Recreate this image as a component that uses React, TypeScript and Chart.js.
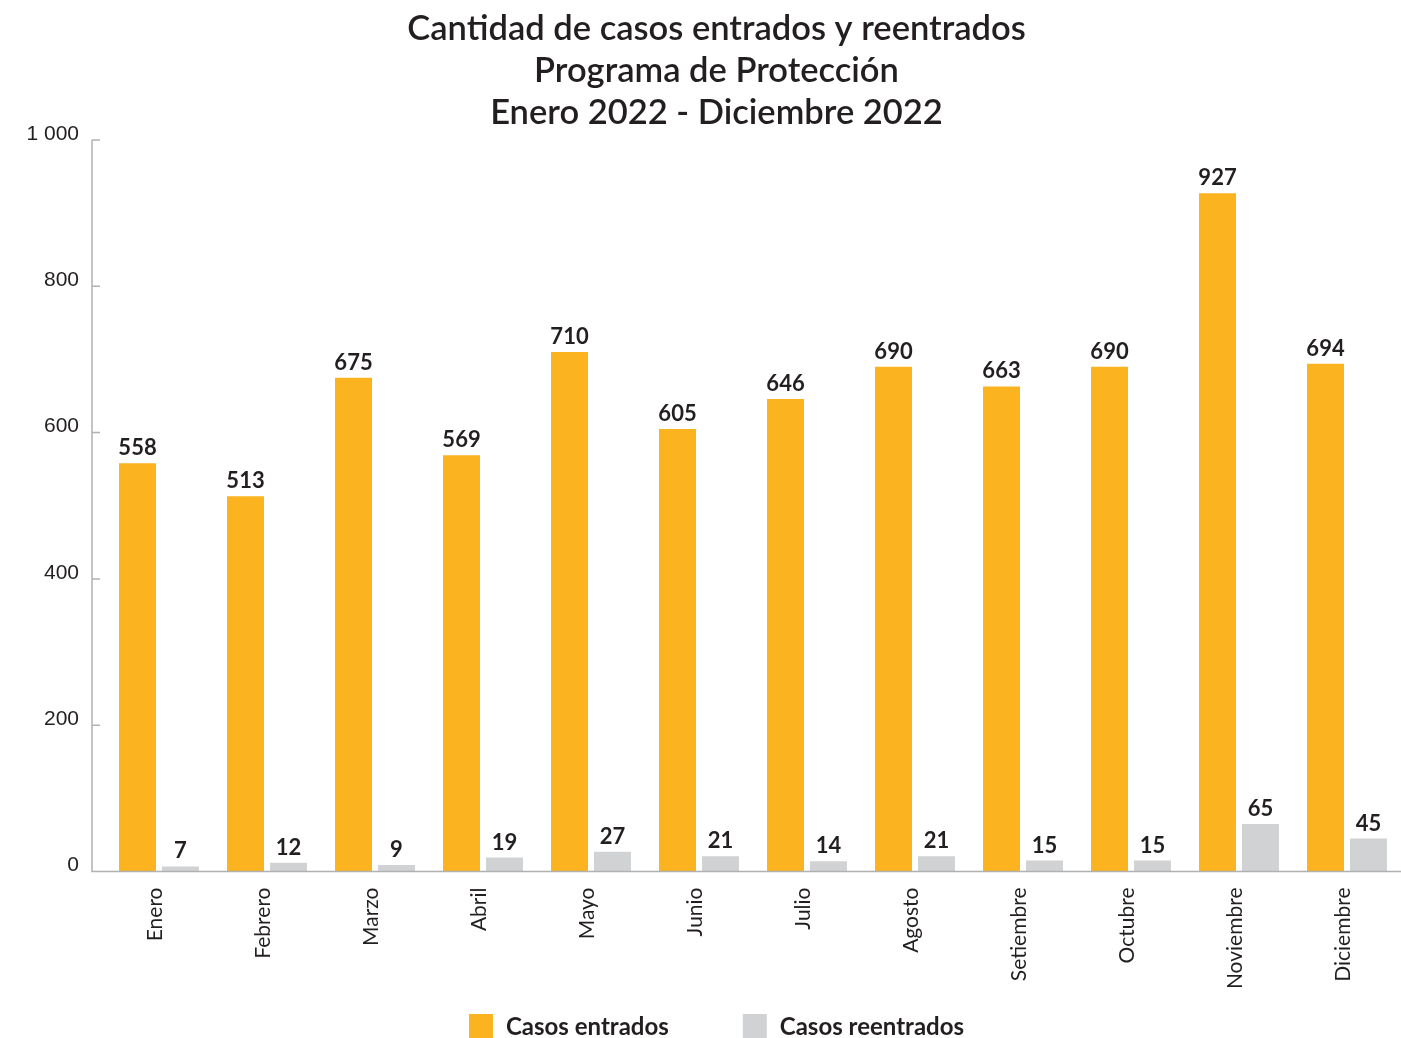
import React, { useEffect, useRef } from "react";
import { Chart, registerables } from "chart.js";

Chart.register(...registerables);

const months = [
  "Enero", "Febrero", "Marzo", "Abril", "Mayo", "Junio",
  "Julio", "Agosto", "Setiembre", "Octubre", "Noviembre", "Diciembre",
];
const casosEntrados = [558, 513, 675, 569, 710, 605, 646, 690, 663, 690, 927, 694];
const casosReentrados = [7, 12, 9, 19, 27, 21, 14, 21, 15, 15, 65, 45];
const seriesNames = ["Casos entrados", "Casos reentrados"];
const yTicks = [0, 200, 400, 600, 800, 1000];
const titleLines = [
  "Cantidad de casos entrados y reentrados",
  "Programa de Protección",
  "Enero 2022 - Diciembre 2022",
];

const ORANGE = "#fbb31f";
const GRAY = "#d1d2d4";
const TEXT = "#231f20";
const AXIS = "#b1b1b1";
const LEFT_PAD = 32;
const AXIS_GAP = 13;

const formatThousands = (v: number) =>
  String(v).replace(/\B(?=(\d{3})+(?!\d))/g, " ");

// Axis lines, inward tick marks and y tick labels; the y axis sits a little left of the first band.
const axisLinesPlugin = {
  id: "axisLines",
  afterDraw(chart: any) {
    const { ctx, chartArea, scales } = chart;
    const y = scales.y;
    const axisX = chartArea.left - AXIS_GAP;
    const y0 = y.getPixelForValue(0);
    const yTop = y.getPixelForValue(yTicks[yTicks.length - 1]);
    ctx.save();
    ctx.strokeStyle = AXIS;
    ctx.lineWidth = 1.5;
    ctx.beginPath();
    ctx.moveTo(axisX, yTop);
    ctx.lineTo(axisX, y0);
    ctx.lineTo(chart.width, y0);
    yTicks.forEach((t) => {
      const py = y.getPixelForValue(t);
      ctx.moveTo(axisX, py);
      ctx.lineTo(axisX + 8, py);
    });
    ctx.stroke();

    ctx.fillStyle = TEXT;
    ctx.font = "21px 'Liberation Sans', Arial, sans-serif";
    ctx.textAlign = "right";
    ctx.textBaseline = "middle";
    yTicks.forEach((t) => {
      ctx.fillText(formatThousands(t), axisX - 13, y.getPixelForValue(t) - 6);
    });
    ctx.restore();
  },
};

// Value labels above each bar.
const valueLabelsPlugin = {
  id: "valueLabels",
  afterDatasetsDraw(chart: any) {
    const { ctx } = chart;
    ctx.save();
    ctx.font = "bold 22px Lato";
    ctx.fillStyle = TEXT;
    ctx.textAlign = "center";
    ctx.textBaseline = "alphabetic";
    chart.data.datasets.forEach((ds: any, i: number) => {
      const meta = chart.getDatasetMeta(i);
      meta.data.forEach((el: any, j: number) => {
        ctx.fillText(String(ds.data[j]), el.x, el.y - 8);
      });
    });
    ctx.restore();
  },
};

// Legend row at the bottom of the canvas.
const bottomLegendPlugin = {
  id: "bottomLegend",
  afterDraw(chart: any) {
    const { ctx } = chart;
    const box = 24;
    const textGap = 13;
    const itemGap = 74;
    ctx.save();
    ctx.font = "bold 24px Lato";
    const items = chart.data.datasets.map((ds: any) => ({
      label: ds.label,
      color: ds.backgroundColor,
      w: box + textGap + ctx.measureText(ds.label).width,
    }));
    const total =
      items.reduce((s: number, it: any) => s + it.w, 0) + itemGap * (items.length - 1);
    let x = (LEFT_PAD + chart.width) / 2 - total / 2;
    const top = 1014;
    items.forEach((it: any) => {
      ctx.fillStyle = it.color;
      ctx.fillRect(x, top, box, box);
      ctx.fillStyle = TEXT;
      ctx.textAlign = "left";
      ctx.textBaseline = "middle";
      ctx.fillText(it.label, x + box + textGap, top + box / 2 + 1);
      x += it.w + itemGap;
    });
    ctx.restore();
  },
};

export default function App() {
  const canvasRef = useRef<HTMLCanvasElement | null>(null);

  useEffect(() => {
    if (!canvasRef.current) return;
    const chart = new Chart(canvasRef.current, {
      type: "bar",
      data: {
        labels: months,
        datasets: [
          {
            label: seriesNames[0],
            data: casosEntrados,
            backgroundColor: ORANGE,
            categoryPercentage: 0.796,
            barPercentage: 0.86,
          },
          {
            label: seriesNames[1],
            data: casosReentrados,
            backgroundColor: GRAY,
            categoryPercentage: 0.796,
            barPercentage: 0.86,
          },
        ],
      },
      options: {
        animation: false,
        responsive: false,
        maintainAspectRatio: false,
        devicePixelRatio: 1,
        layout: { padding: { left: LEFT_PAD, right: 0, top: 0, bottom: 46.5 } },
        plugins: {
          legend: { display: false },
          tooltip: { enabled: false },
          title: {
            display: true,
            text: titleLines,
            color: TEXT,
            font: { family: "Lato", size: 34.5, weight: "600", lineHeight: 1.217 },
            padding: { top: 8, bottom: 6 },
          },
        },
        scales: {
          x: {
            grid: { display: false, drawTicks: false },
            border: { display: false },
            ticks: {
              minRotation: 90,
              maxRotation: 90,
              autoSkip: false,
              padding: 16,
              labelOffset: -4,
              color: TEXT,
              font: { family: "Lato", size: 21 },
            },
            afterFit: (scale: any) => {
              scale.height = 120;
            },
          },
          y: {
            min: 0,
            max: 1000,
            grid: { display: false, drawTicks: false },
            border: { display: false },
            ticks: { stepSize: 200, display: false },
            afterFit: (scale: any) => {
              scale.width = 73;
            },
          },
        },
      },
      plugins: [axisLinesPlugin, valueLabelsPlugin, bottomLegendPlugin],
    });
    return () => chart.destroy();
  }, []);

  return (
    <div style={{ position: "fixed", left: 0, top: 0, width: 1401, height: 1038, background: "#fff" }}>
      <canvas ref={canvasRef} width={1401} height={1038} />
    </div>
  );
}
